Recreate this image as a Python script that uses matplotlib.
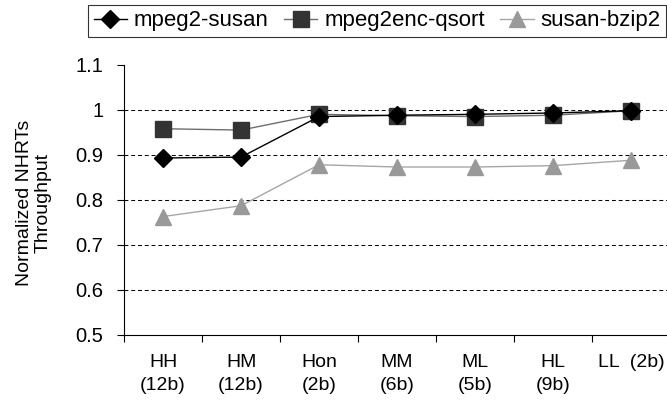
import matplotlib.pyplot as plt

plt.rcParams["font.family"] = ["Liberation Sans", "DejaVu Sans"]

# configurations along the x axis
configs = ["HH\n(12b)", "HM\n(12b)", "Hon\n(2b)", "MM\n(6b)", "ML\n(5b)", "HL\n(9b)", "LL  (2b)"]

# normalized throughput per workload pair
mpeg2_susan = [0.893, 0.895, 0.985, 0.988, 0.990, 0.993, 0.998]
mpeg2enc_qsort = [0.958, 0.955, 0.990, 0.987, 0.985, 0.988, 0.998]
susan_bzip2 = [0.763, 0.787, 0.878, 0.873, 0.873, 0.876, 0.888]

y_ticks = [0.5, 0.6, 0.7, 0.8, 0.9, 1.0, 1.1]
y_tick_labels = ["0.5", "0.6", "0.7", "0.8", "0.9", "1", "1.1"]
grid_levels = [0.6, 0.7, 0.8, 0.9, 1.0]

fig = plt.figure(figsize=(6.67, 4.05), dpi=100)
ax = fig.add_axes([0.186, 0.173, 0.8186, 0.667])

x = list(range(len(configs)))

ax.hlines(grid_levels, -0.5, len(configs) - 0.5, colors="black",
          linestyles=(0, (3.7, 2.8)), linewidth=0.75, zorder=1)

ax.plot(x, mpeg2_susan, color="black", linewidth=1.0, marker="D",
        markersize=9, markerfacecolor="black", markeredgecolor="black",
        label="mpeg2-susan", zorder=4)
ax.plot(x, mpeg2enc_qsort, color="#6e6e6e", linewidth=1.0, marker="s",
        markersize=11, markerfacecolor="#333333", markeredgecolor="#333333",
        label="mpeg2enc-qsort", zorder=3)
ax.plot(x, susan_bzip2, color="#a6a6a6", linewidth=1.0, marker="^",
        markersize=12, markerfacecolor="#999999", markeredgecolor="#999999",
        label="susan-bzip2", zorder=2)

ax.set_xlim(-0.5, len(configs) - 0.5)
ax.set_ylim(0.5, 1.1)

# category labels at centers, tick marks at boundaries
ax.set_xticks(x)
ax.set_xticklabels(configs, fontsize=14, linespacing=1.4)
ax.tick_params(axis="x", which="major", length=0, pad=14)
ax.set_xticks([i - 0.5 for i in range(len(configs) + 1)], minor=True)
ax.tick_params(axis="x", which="minor", length=5, width=0.8, direction="out")

ax.set_yticks(y_ticks)
ax.set_yticklabels(y_tick_labels, fontsize=14.5)
ax.tick_params(axis="y", length=5, width=0.8, direction="out", pad=10)

for side in ["top", "right"]:
    ax.spines[side].set_visible(False)
for side in ["left", "bottom"]:
    ax.spines[side].set_linewidth(0.8)
    ax.spines[side].set_color("black")

fig.text(0.051, 0.50, "Normalized NHRTs\nThroughput", fontsize=14,
         rotation=90, ha="center", va="center", multialignment="center",
         linespacing=1.15)

leg = fig.legend(loc="upper right", bbox_to_anchor=(0.9985, 0.988), ncol=3,
                 fontsize=16, frameon=True, fancybox=False, handlelength=1.5,
                 handletextpad=0.3, columnspacing=0.7, borderpad=0.25,
                 borderaxespad=0)
leg.get_frame().set_edgecolor("black")
leg.get_frame().set_linewidth(0.8)

fig.savefig("out.png", dpi=100)
